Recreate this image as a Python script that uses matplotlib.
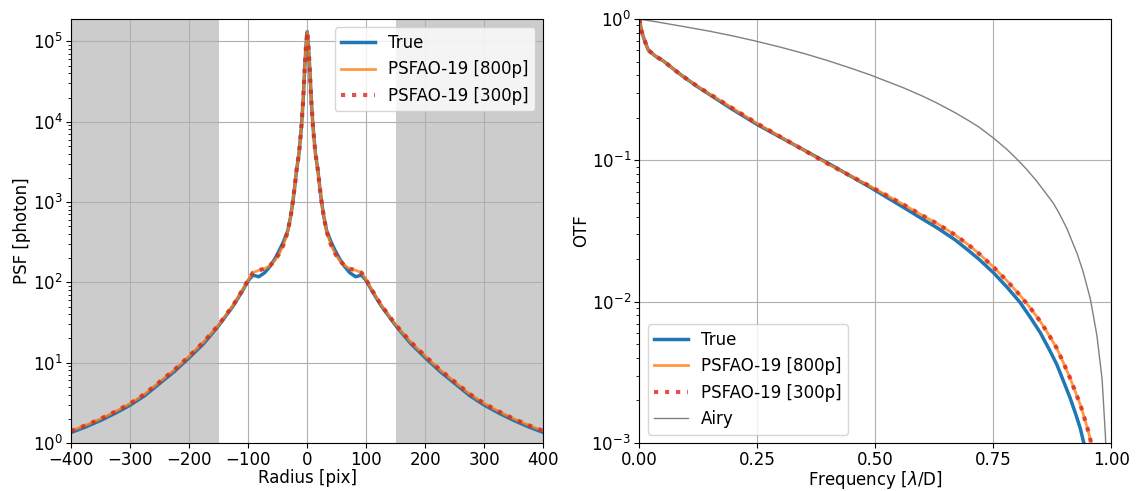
import numpy as np
import matplotlib
matplotlib.use("Agg")
import matplotlib.pyplot as plt

# ---- PSF radial profile (one side, mirrored) ----
radius_half = [0, 2, 4, 7, 10, 14, 18, 21, 24, 28, 33, 40, 47, 55, 63, 72, 82, 92,
               100, 110, 125, 150, 175, 200, 225, 250, 275, 300, 325, 350, 375, 400]
log_psf_fit = [5.12, 4.95, 4.70, 4.25, 3.92, 3.60, 3.40, 3.20, 3.02, 2.82, 2.63, 2.47,
               2.36, 2.27, 2.21, 2.17, 2.15, 2.12, 2.03, 1.90, 1.72, 1.47, 1.26, 1.08,
               0.91, 0.76, 0.61, 0.49, 0.39, 0.30, 0.22, 0.15]
log_psf_true = [5.12, 4.95, 4.70, 4.25, 3.92, 3.60, 3.40, 3.20, 3.02, 2.82, 2.64, 2.51,
                2.40, 2.29, 2.20, 2.12, 2.07, 2.09, 2.02, 1.89, 1.71, 1.46, 1.24, 1.06,
                0.89, 0.74, 0.59, 0.47, 0.37, 0.28, 0.20, 0.13]
log_psf_fit300 = [5.12, 4.95, 4.70, 4.25, 3.92, 3.60, 3.40, 3.20, 3.02, 2.82, 2.63, 2.47,
                  2.36, 2.27, 2.21, 2.17, 2.15, 2.12, 2.03, 1.90, 1.72, 1.47, 1.26, 1.08,
                  0.91, 0.76, 0.61, 0.49, 0.39, 0.30, 0.22, 0.15]

# ---- OTF ----
freq = [0, 0.005, 0.012, 0.019, 0.033, 0.051, 0.086, 0.122, 0.192, 0.249, 0.334, 0.404,
        0.489, 0.56, 0.6, 0.631, 0.67, 0.701, 0.72, 0.751, 0.78, 0.807, 0.83, 0.850,
        0.87, 0.885, 0.9, 0.913, 0.925, 0.935, 0.945, 0.952, 0.965]
log_otf_fit = [0, -0.09, -0.16, -0.22, -0.26, -0.297, -0.39, -0.474, -0.62, -0.738, -0.90,
               -1.033, -1.183, -1.313, -1.39, -1.447, -1.529, -1.607, -1.66, -1.756,
               -1.855, -1.955, -2.05, -2.14, -2.245, -2.33, -2.44, -2.54, -2.645, -2.73,
               -2.84, -2.92, -3.1]
log_otf_true = [0, -0.09, -0.16, -0.22, -0.26, -0.297, -0.39, -0.476, -0.628, -0.745, -0.90,
                -1.028, -1.19, -1.333, -1.415, -1.477, -1.564, -1.647, -1.70, -1.796, -1.90,
                -2.005, -2.117, -2.22, -2.345, -2.445, -2.57, -2.68, -2.795, -2.90, -3.04,
                -3.13, -3.3]
freq_airy = [0, 0.05, 0.1, 0.15, 0.2, 0.249, 0.3, 0.35, 0.4, 0.45, 0.489, 0.56, 0.6, 0.631,
             0.67, 0.701, 0.72, 0.751, 0.78, 0.8, 0.82, 0.843, 0.86, 0.878, 0.89, 0.906,
             0.928, 0.94, 0.956, 0.970, 0.981, 0.988, 0.995]
log_otf_airy = [0, -0.028, -0.057, -0.087, -0.121, -0.158, -0.20, -0.245, -0.295, -0.35,
                -0.395, -0.487, -0.545, -0.595, -0.664, -0.725, -0.765, -0.843, -0.925, -0.99,
                -1.06, -1.15, -1.225, -1.305, -1.375, -1.48, -1.66, -1.78, -1.98, -2.24,
                -2.55, -2.95, -3.6]

r = np.concatenate([-np.array(radius_half[::-1]), np.array(radius_half[1:])])
def mirror(v):
    v = np.array(v)
    return 10 ** np.concatenate([v[::-1], v[1:]])

plt.rcParams['font.size'] = 12
plt.rcParams['xtick.major.pad'] = 2.5
plt.rcParams['ytick.major.pad'] = 2.5
plt.rcParams['axes.labelpad'] = 1.0

fig = plt.figure(figsize=(11.37, 4.91), dpi=100)
ax1 = fig.add_axes([0.0624, 0.0978, 0.4156, 0.8635])
ax2 = fig.add_axes([0.5623, 0.0978, 0.4149, 0.8635])

# left: PSF
ax1.axvspan(-400, -150, facecolor='gray', alpha=0.4, lw=0)
ax1.axvspan(150, 400, facecolor='gray', alpha=0.4, lw=0)
ax1.semilogy(r, mirror(log_psf_true), color='#1f77b4', lw=2.5, label='True')
ax1.semilogy(r, mirror(log_psf_fit), color='#ff7f0e', lw=2, alpha=0.8, label='PSFAO-19 [800p]')
ax1.semilogy(r, mirror(log_psf_fit300), color='#d62728', lw=3, ls=':', alpha=0.8,
             label='PSFAO-19 [300p]')
ax1.set_xlim(-400, 400)
ax1.set_ylim(1, 1.9e5)
ax1.set_xlabel('Radius [pix]', labelpad=0)
ax1.set_ylabel('PSF [photon]')
ax1.grid(True)
ax1.legend(loc='upper right')

# right: OTF
ax2.semilogy(freq, 10 ** np.array(log_otf_true), color='#1f77b4', lw=2.5, label='True')
ax2.semilogy(freq, 10 ** np.array(log_otf_fit), color='#ff7f0e', lw=2, alpha=0.8,
             label='PSFAO-19 [800p]')
ax2.semilogy(freq, 10 ** np.array(log_otf_fit), color='#d62728', lw=3, ls=':', alpha=0.8,
             label='PSFAO-19 [300p]')
ax2.semilogy(freq_airy, 10 ** np.array(log_otf_airy), color='gray', lw=1, label='Airy')
ax2.set_xlim(0, 1)
ax2.set_ylim(1e-3, 1)
ax2.set_xticks([0, 0.25, 0.5, 0.75, 1.0])
ax2.set_xticklabels(['0.00', '0.25', '0.50', '0.75', '1.00'])
ax2.set_xlabel(r'Frequency [$\lambda$/D]', labelpad=0)
ax2.set_ylabel('OTF')
ax2.grid(True)
ax2.legend(loc='lower left')

plt.savefig('out.png', dpi=100)
